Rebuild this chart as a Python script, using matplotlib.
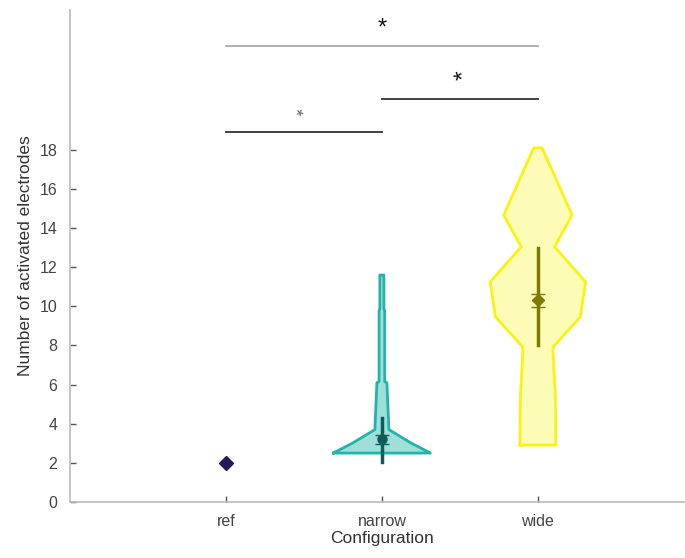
import matplotlib
matplotlib.use('Agg')
import matplotlib.pyplot as plt

plt.rcParams['font.family'] = ['Liberation Sans', 'DejaVu Sans']

configs = ['ref', 'narrow', 'wide']

# violin outlines: value levels and half widths (x units)
narrow_y = [2.5, 2.55, 3.0, 3.7, 6.1, 6.15, 9.8, 9.85, 11.6]
narrow_w = [0.31, 0.30, 0.19, 0.045, 0.032, 0.018, 0.018, 0.013, 0.013]
wide_y = [2.91, 5.4, 7.75, 7.95, 9.46, 11.25, 13.04, 14.67, 18.1]
wide_w = [0.115, 0.112, 0.096, 0.10, 0.272, 0.306, 0.107, 0.219, 0.027]

# summary stats per configuration
means = [2.0, 3.2, 10.3]
sd_low = [2.0, 2.05, 8.0]
sd_high = [2.0, 4.3, 13.0]
sem = [0.0, 0.22, 0.33]

# significance brackets: (left, right, height, style)
brackets = [(1, 3, 23.3, 'lightgray'), (2, 3, 20.6, 'dark'), (1, 2, 18.9, 'dark')]

fig = plt.figure(figsize=(6.85, 5.58), dpi=100)
ax = fig.add_axes([0.102, 0.1004, 0.911, 0.8817])

edge_cols = ['#231a5c', '#22b3aa', '#f9f312']
fill_cols = [None, '#9fdfd9', '#fdfcb6']
mean_cols = ['#231a5c', '#0d5e58', '#7c7a00']

for i, (vy, vw) in enumerate([(narrow_y, narrow_w), (wide_y, wide_w)], start=2):
    left = [i - w for w in vw]
    right = [i + w for w in vw]
    ax.fill_betweenx(vy, left, right, color=fill_cols[i - 1], lw=0, zorder=1)
    ax.plot(left + right[::-1] + [left[0]], vy + vy[::-1] + [vy[0]],
            color=edge_cols[i - 1], lw=2.0, zorder=2)

# ref has a single value
ax.plot(1, means[0], 'D', color=mean_cols[0], ms=7, zorder=4)

for i in (1, 2):
    x = i + 1
    ax.plot([x, x], [sd_low[i], sd_high[i]], color=mean_cols[i], lw=2.5, zorder=3)
    ax.errorbar(x, means[i], yerr=sem[i], fmt='o' if i == 1 else 'D',
                color=mean_cols[i], ms=6.5 if i == 1 else 6, capsize=5,
                elinewidth=1, capthick=1, zorder=4)

for a, b, h, style in brackets:
    c = '#aaaaaa' if style == 'lightgray' else '#333333'
    ax.plot([a, b], [h, h], color=c, lw=1.3)
star_kw = dict(ha='center', va='center', fontsize=17)
ax.text(2, 24.2, '*', color='#111111', **star_kw)
ax.text(2.5, 21.5, '*', color='#111111', rotation=20, **star_kw)
ax.text(1.5, 19.75, '*', color='#666666', rotation=45, ha='center', va='center', fontsize=13)

ax.set_xlim(0, 4)
ax.set_ylim(0, 25.15)
ax.set_xticks([1, 2, 3])
ax.set_xticklabels(configs)
ax.set_yticks(range(0, 19, 2))
ax.tick_params(direction='in', length=4, width=1, color='#555555',
               labelcolor='#444444', labelsize=11.5, pad=9)
for s in ('top', 'right'):
    ax.spines[s].set_visible(False)
for s in ('left', 'bottom'):
    ax.spines[s].set_color('#bbbbbb')
    ax.spines[s].set_linewidth(1.2)

ax.set_xlabel('Configuration', fontsize=12.5, color='#333333', labelpad=1)
ax.set_ylabel('Number of activated electrodes', fontsize=12.5, color='#333333', labelpad=5)

fig.savefig('out.png', dpi=100)
